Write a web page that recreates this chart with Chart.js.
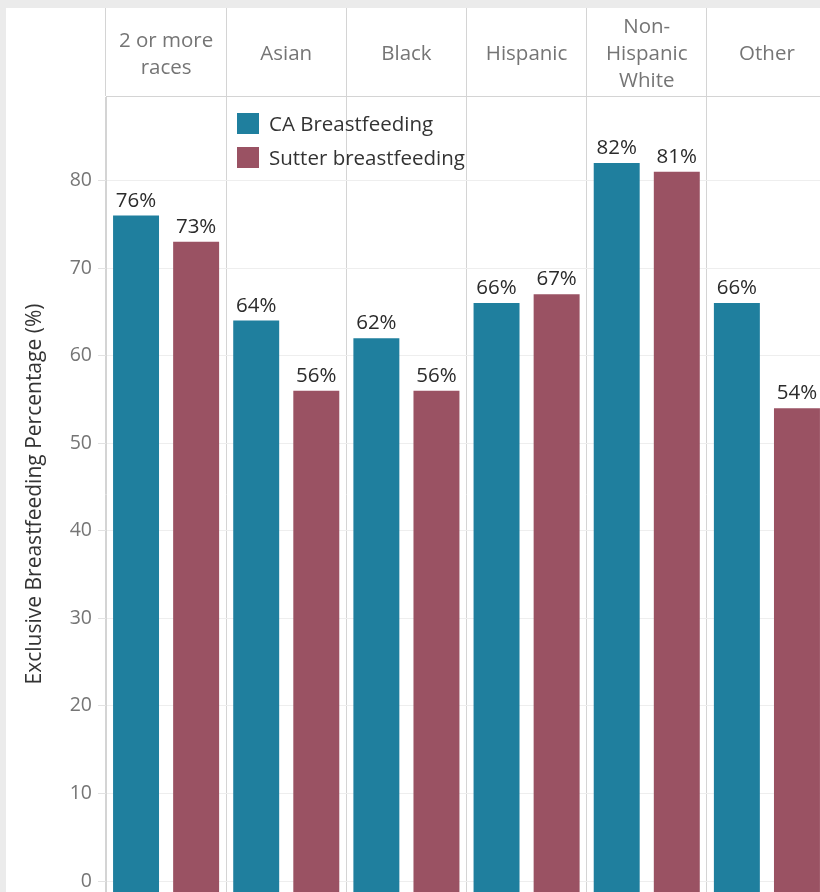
<!DOCTYPE html>
<html>
<head>
<meta charset="utf-8">
<script src="https://cdn.jsdelivr.net/npm/chart.js@4.4.1/dist/chart.umd.min.js"></script>
<style>
  html, body { margin: 0; padding: 0; background: #ebebeb; }
  #wrap { width: 820px; height: 892px; overflow: hidden; position: relative; }
  canvas { display: block; }
</style>
</head>
<body>
<div id="wrap"><canvas id="chart" width="830" height="892"></canvas></div>
<script>
// dados
const categorias = [['2 or more', 'races'], ['Asian'], ['Black'], ['Hispanic'], ['Non-', 'Hispanic', 'White'], ['Other']];
const caBreastfeeding = [76, 64, 62, 66, 82, 66];
const sutterBreastfeeding = [73, 56, 56, 67, 81, 54];
const yTicks = [0, 10, 20, 30, 40, 50, 60, 70, 80];

const FONTE = '"Open Sans", "Noto Sans", sans-serif';
const COR_CA = '#1f7f9e';
const COR_SUTTER = '#9a5263';
const COR_LINHA = '#d4d4d4';

// fundo cinza + painel branco
const fundoPlugin = {
    id: 'fundo',
    beforeDraw(chart) {
        const c = chart.ctx;
        c.save();
        c.fillStyle = '#ebebeb';
        c.fillRect(0, 0, chart.width, chart.height);
        c.fillStyle = '#ffffff';
        c.fillRect(6, 8, chart.width - 6, chart.height - 8);
        c.restore();
    }
};

// cabeçalho das colunas
const cabecalhoPlugin = {
    id: 'cabecalho',
    afterDraw(chart) {
        const x = chart.scales.x;
        const c = chart.ctx;
        const meio = (x.top + x.bottom) / 2 + 8;
        const lh = 27;
        c.save();
        c.font = '20.5px ' + FONTE;
        c.fillStyle = '#757575';
        c.textAlign = 'center';
        c.textBaseline = 'alphabetic';
        categorias.forEach((linhas, i) => {
            const px = x.getPixelForValue(i);
            const y0 = meio - (linhas.length - 1) * lh / 2;
            linhas.forEach((t, j) => c.fillText(t, px, y0 + j * lh));
        });
        c.restore();
    }
};

// rótulos de valor
const rotulosPlugin = {
    id: 'rotulos',
    afterDatasetsDraw(chart) {
        const c = chart.ctx;
        c.save();
        c.font = '20.5px ' + FONTE;
        c.fillStyle = '#2b2b2b';
        c.textAlign = 'center';
        c.textBaseline = 'alphabetic';
        chart.data.datasets.forEach((ds, di) => {
            chart.getDatasetMeta(di).data.forEach((bar, i) => {
                c.fillText(ds.data[i] + '%', bar.x, bar.y - 9);
            });
        });
        c.restore();
    }
};

// legenda dentro do gráfico
const legendaPlugin = {
    id: 'legenda',
    afterDraw(chart) {
        const c = chart.ctx;
        const a = chart.chartArea;
        const lx = a.left + 131;
        const ly = a.top + 17;
        c.save();
        c.font = '20.5px ' + FONTE;
        c.textBaseline = 'middle';
        chart.data.datasets.forEach((ds, i) => {
            const y = ly + i * 34;
            c.fillStyle = ds.backgroundColor;
            c.fillRect(lx, y, 22, 21);
            c.fillStyle = '#333333';
            c.fillText(ds.label, lx + 32, y + 12);
        });
        c.restore();
    }
};

new Chart(document.getElementById('chart'), {
    type: 'bar',
    data: {
        labels: categorias.map(l => l.join(' ')),
        datasets: [
            {
                label: 'CA Breastfeeding',
                data: caBreastfeeding,
                backgroundColor: COR_CA,
                base: -1.25,
                categoryPercentage: 1.0,
                barPercentage: 0.765
            },
            {
                label: 'Sutter breastfeeding',
                data: sutterBreastfeeding,
                backgroundColor: COR_SUTTER,
                base: -1.25,
                categoryPercentage: 1.0,
                barPercentage: 0.765
            }
        ]
    },
    options: {
        responsive: false,
        animation: false,
        devicePixelRatio: 1,
        layout: { padding: { left: 6, top: 8, right: 3, bottom: 0 } },
        plugins: {
            legend: { display: false },
            tooltip: { enabled: false }
        },
        scales: {
            x: {
                position: 'top',
                offset: true,
                ticks: { display: false },
                grid: {
                    offset: true,
                    color: COR_LINHA,
                    tickColor: COR_LINHA,
                    tickLength: 88,
                    drawOnChartArea: true
                },
                border: { display: true, color: COR_LINHA }
            },
            y: {
                min: -1.25,
                max: 89.65,
                afterFit(scale) {
                    scale.width = 100;
                    scale.paddingTop = 0;
                    scale.paddingBottom = 0;
                },
                afterBuildTicks(scale) {
                    scale.ticks = yTicks.map(v => ({ value: v }));
                },
                ticks: {
                    color: '#757575',
                    font: { family: FONTE, size: 19.5 },
                    padding: 6
                },
                grid: {
                    color: '#eeeeee',
                    tickColor: '#e2e2e2',
                    tickLength: 8
                },
                border: { display: true, color: COR_LINHA },
                title: {
                    display: true,
                    text: 'Exclusive Breastfeeding Percentage (%)',
                    color: '#333333',
                    font: { family: FONTE, size: 21 },
                    padding: { top: 16, bottom: 0 }
                }
            }
        }
    },
    plugins: [fundoPlugin, cabecalhoPlugin, rotulosPlugin, legendaPlugin]
});
</script>
</body>
</html>
